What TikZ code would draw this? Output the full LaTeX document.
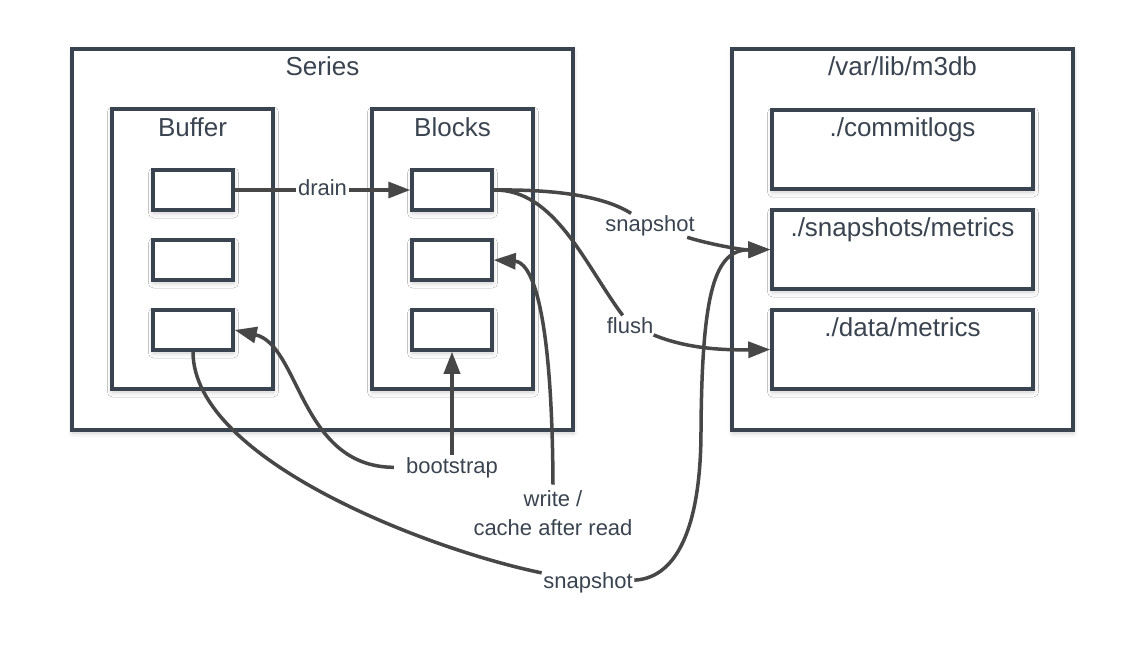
\documentclass[tikz,border=0pt]{standalone}
\usepackage{fontspec}
\setmainfont{Liberation Sans}
\usetikzlibrary{arrows.meta,shadows.blur}
\definecolor{boxc}{HTML}{3A4450}
\definecolor{arrc}{HTML}{474747}
\tikzset{
  box/.style={draw=boxc, line width=3.5pt, fill=white, inner sep=0pt,
    blur shadow={shadow xshift=0.5pt, shadow yshift=-3pt, shadow blur radius=5pt, shadow opacity=20}},
  sbox/.style={box, minimum width=80pt, minimum height=40pt},
  title/.style={font=\fontsize{26}{30}\selectfont, text=boxc, anchor=base, inner sep=0pt},
  lbl/.style={font=\fontsize{22}{29}\selectfont, text=boxc, inner sep=1.5pt},
  plain/.style={draw=arrc, line width=3.5pt},
  arr/.style={plain, -{Triangle[length=22pt,width=16pt]}},
}
\begin{document}
\begin{tikzpicture}[x=1pt,y=-1pt]
\useasboundingbox (0,0) rectangle (1146,649);
% left group
\node[box, minimum width=501pt, minimum height=381pt] (series) at (322.5,239.5) {};
\node[title] (seriesT) at (322.5,75.5) {Series};
\node[box, minimum width=161pt, minimum height=280pt] (buffer) at (192.5,249) {};
\node[title] (bufferT) at (192.5,136.5) {Buffer};
\node[box, minimum width=161pt, minimum height=280pt] (blocks) at (452.5,249) {};
\node[title] (blocksT) at (452.5,136.5) {Blocks};
\node[sbox] (f1) at (193,190) {};
\node[sbox] (f2) at (193,260) {};
\node[sbox] (f3) at (193,330) {};
\node[sbox] (b1) at (452,190) {};
\node[sbox] (b2) at (452,260) {};
\node[sbox] (b3) at (452,330) {};
% right group
\node[box, minimum width=341pt, minimum height=381pt] (m3db) at (902.5,239.5) {};
\node[title] (m3dbT) at (902.5,75) {/var/lib/m3db};
\node[box, minimum width=261pt, minimum height=79pt] (commitM) at (902.5,149.5) {};
\node[title] (commitT) at (902.5,136) {./commitlogs};
\node[box, minimum width=261pt, minimum height=79pt] (snapM) at (902.5,249.5) {};
\node[title] (snapT) at (902.5,236) {./snapshots/metrics};
\node[box, minimum width=261pt, minimum height=79pt] (dataM) at (902.5,349.5) {};
\node[title] (dataT) at (902.5,336) {./data/metrics};
% labels
\node[lbl, anchor=base] (drainL) at (322.5,195) {drain};
\node[lbl, anchor=base] (snapL) at (650,231) {snapshot};
\node[lbl, anchor=base] (flushL) at (630,333) {flush};
\node[lbl, anchor=base, inner xsep=12pt] (bootL) at (452,473) {bootstrap};
\node[lbl, align=center, inner sep=6pt] (writeL) at (553,513.5) {write /\\cache after read};
\node[lbl, anchor=base] (snapB) at (588,588) {snapshot};
\coordinate (bendR) at (701,430);
% connectors
\draw[plain] (f1.east) -- (f1.east -| drainL.west);
\draw[arr] (drainL.east |- b1.west) -- (b1.west);
\draw[plain] (b1.east) .. controls (570,189) and (610,200) .. (snapL);
\draw[arr] (snapL) .. controls (705,243) and (740,250) .. (snapM.west);
\draw[plain] (b1.east) .. controls (555,189) and (585,265) .. (flushL);
\draw[arr] (flushL) .. controls (690,350) and (730,350) .. (dataM.west);
\draw[arr] (writeL.north) .. controls (552,300) and (530,262) .. (b2.east);
\draw[arr] (bootL.north) -- (b3.south);
\draw[arr] (bootL.west) .. controls (300,467) and (300,345) .. (f3.east);
\draw[plain] (f3.south) .. controls (193,460) and (430,550) .. (snapB);
\draw[arr] (snapB) .. controls (680,578) and (701,520) .. (bendR) .. controls (702,290) and (715,250) .. (snapM.west);
\end{tikzpicture}
\end{document}
